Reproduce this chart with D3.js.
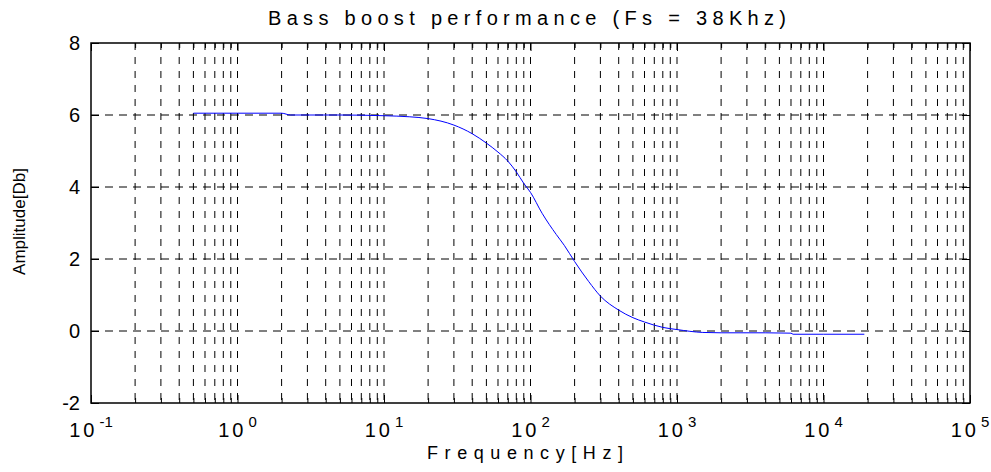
<!DOCTYPE html>
<html>
<head>
<meta charset="utf-8">
<script src="https://cdn.jsdelivr.net/npm/d3@7"></script>
<style>
  html, body { margin: 0; padding: 0; background: #fff; }
  svg { display: block; font-family: "Liberation Sans", Arial, Helvetica, sans-serif; }
</style>
</head>
<body>
<svg id="chart" width="991" height="472"></svg>
<script>
// ---- data ----
const freqHz = [0.5, 1, 2, 2.3, 5, 10, 15, 20, 30, 40, 50, 60, 70, 80, 90, 100, 120, 150, 170, 200,
                250, 300, 400, 500, 600, 800, 1000, 1500, 2000, 4000, 6000, 6200, 10000, 19000];
const gainDb = [6.05, 6.05, 6.05, 6.0, 6.0, 5.98, 5.95, 5.9, 5.72, 5.48, 5.22, 4.97, 4.72, 4.42, 4.1, 3.85, 3.27, 2.68, 2.38, 1.93,
                1.37, 0.97, 0.58, 0.37, 0.25, 0.1, 0.04, -0.04, -0.05, -0.05, -0.06, -0.09, -0.09, -0.09];
const xMajorTicks = [0.1, 1, 10, 100, 1000, 10000, 100000];
const xMajorExp = ["-1", "0", "1", "2", "3", "4", "5"];
const yTicks = [-2, 0, 2, 4, 6, 8];
const yTickLabels = ["-2", "0", "2", "4", "6", "8"];
const titleText = "Bass boost performance (Fs = 38Khz)";
const xLabelText = "Frequency[Hz]";
const yLabelText = "Amplitude[Db]";

// ---- layout ----
const L = 91, R = 970, T = 43, B = 403;
const svg = d3.select("#chart");
const x = d3.scaleLog().domain([0.1, 100000]).range([L, R]);
const y = d3.scaleLinear().domain([-2, 8]).range([B, T]);

const xMinor = [];
for (let d = 0; d < xMajorTicks.length - 1; d++) {
  for (let m = 2; m <= 9; m++) xMinor.push(xMajorTicks[d] * m);
}
const xAll = xMajorTicks.concat(xMinor);

// grid
const grid = svg.append("g");
grid.selectAll("line.v").data(xAll.filter(v => v > 0.1 && v < 100000)).enter().append("line")
  .attr("x1", d => x(d)).attr("x2", d => x(d)).attr("y1", T).attr("y2", B)
  .attr("stroke", "#000").attr("stroke-width", 1).attr("stroke-dasharray", "7,7");
grid.selectAll("line.h").data(yTicks.filter(v => v > -2 && v < 8)).enter().append("line")
  .attr("x1", L).attr("x2", R).attr("y1", d => y(d)).attr("y2", d => y(d))
  .attr("stroke", "#000").attr("stroke-width", 1).attr("stroke-dasharray", "8,6");

// curve
const line = d3.line().x((d, i) => x(freqHz[i])).y(d => y(d)).curve(d3.curveMonotoneX);
svg.append("path").datum(gainDb).attr("d", line)
  .attr("fill", "none").attr("stroke", "#0000ff").attr("stroke-width", 1);

// axes with inward ticks
function styleAxis(g) {
  g.select(".domain").remove();
  g.selectAll(".tick line").attr("stroke", "#000").attr("stroke-width", 1);
  g.selectAll(".tick text").remove();
}
svg.append("g").attr("transform", `translate(0,${B})`)
  .call(d3.axisBottom(x).tickValues(xMajorTicks).tickSize(-8).tickFormat("")).call(styleAxis);
svg.append("g").attr("transform", `translate(0,${B})`)
  .call(d3.axisBottom(x).tickValues(xMinor).tickSize(-5).tickFormat("")).call(styleAxis);
svg.append("g").attr("transform", `translate(0,${T})`)
  .call(d3.axisTop(x).tickValues(xMajorTicks).tickSize(-8).tickFormat("")).call(styleAxis);
svg.append("g").attr("transform", `translate(0,${T})`)
  .call(d3.axisTop(x).tickValues(xMinor).tickSize(-5).tickFormat("")).call(styleAxis);
svg.append("g").attr("transform", `translate(${L},0)`)
  .call(d3.axisLeft(y).tickValues(yTicks).tickSize(-8).tickFormat("")).call(styleAxis);
svg.append("g").attr("transform", `translate(${R},0)`)
  .call(d3.axisRight(y).tickValues(yTicks).tickSize(-8).tickFormat("")).call(styleAxis);

// box
svg.append("rect").attr("x", L).attr("y", T).attr("width", R - L).attr("height", B - T)
  .attr("fill", "none").attr("stroke", "#000").attr("stroke-width", 1.5);

// x tick labels 10^n
const xl = svg.append("g");
xMajorTicks.forEach((v, i) => {
  const t = xl.append("text").attr("x", x(v)).attr("y", 437)
    .attr("text-anchor", "middle").attr("fill", "#000");
  t.append("tspan").attr("font-size", 20).attr("letter-spacing", 3).text("10");
  t.append("tspan").attr("font-size", 15).attr("dx", 2).attr("dy", -10).text(xMajorExp[i]);
});

// y tick labels
svg.append("g").selectAll("text").data(yTicks).enter().append("text")
  .attr("x", 80).attr("y", d => y(d) + 7).attr("text-anchor", "end")
  .attr("font-size", 20).attr("fill", "#000").text((d, i) => yTickLabels[i]);

// title
svg.append("text").attr("x", 268).attr("y", 25).attr("font-size", 20)
  .attr("textLength", 518).attr("lengthAdjust", "spacing").attr("fill", "#000").text(titleText);

// x label
svg.append("text").attr("x", 427).attr("y", 459).attr("font-size", 18)
  .attr("textLength", 196).attr("lengthAdjust", "spacing").attr("fill", "#000").text(xLabelText);

// y label
svg.append("text").attr("transform", "translate(25,221.5) rotate(-90)")
  .attr("text-anchor", "middle").attr("font-size", 17).attr("fill", "#000").text(yLabelText);
</script>
</body>
</html>
